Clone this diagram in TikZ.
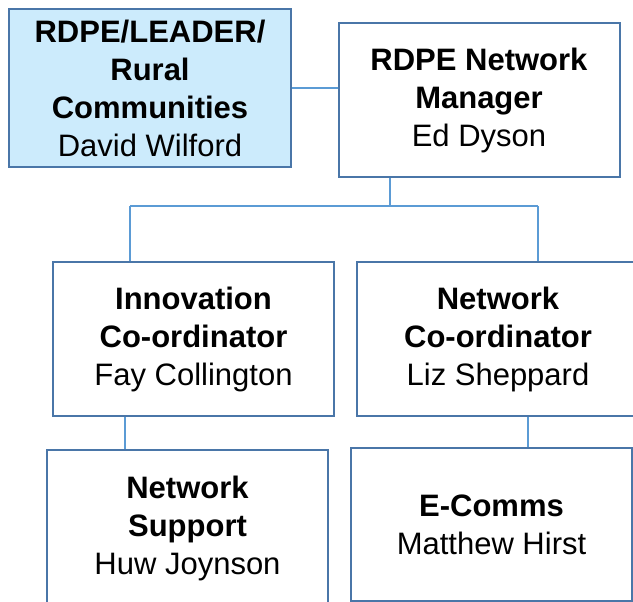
\documentclass[tikz,border=0pt]{standalone}
\usepackage{fontspec}
\setmainfont{Liberation Sans}

\definecolor{boxline}{HTML}{4A76A8}
\definecolor{linkline}{HTML}{5B9BD5}
\definecolor{leadfill}{HTML}{CCEBFC}

\tikzset{
	post/.style = {draw = boxline, line width = 2pt, fill = white, align = center,
		inner sep = 0pt, font = \fontsize{31}{38}\selectfont},
	link/.style = {draw = linkline, line width = 2pt}
}

\begin{document}
\begin{tikzpicture}[x = 1pt, y = -1pt]
		\path [use as bounding box, clip] (0,0) rectangle (633, 602);
		
		\node [post, fill = leadfill, minimum width = 282pt, minimum height = 158pt] (lead) at (150, 88)
			{\textbf{RDPE/LEADER/}\\\textbf{Rural}\\\textbf{Communities}\\David Wilford};
		\node [post, minimum width = 281pt, minimum height = 154pt] (manager) at (479, 100)
			{\textbf{RDPE Network}\\\textbf{Manager}\\Ed Dyson};
		\node [post, minimum width = 281pt, minimum height = 154pt] (innov) at (193.5, 339)
			{\textbf{Innovation}\\\textbf{Co-ordinator}\\Fay Collington};
		\node [post, minimum width = 282pt, minimum height = 154pt] (netco) at (498, 339)
			{\textbf{Network}\\\textbf{Co-ordinator}\\Liz Sheppard};
		\node [post, minimum width = 281pt, minimum height = 156pt] (support) at (187.5, 528)
			{\textbf{Network}\\\textbf{Support}\\Huw Joynson};
		\node [post, minimum width = 281pt, minimum height = 153pt] (ecomms) at (491.5, 524.5)
			{\textbf{E-Comms}\\Matthew Hirst};
		
		\coordinate (busL) at (130, 206);
		\coordinate (busM) at (390, 206);
		\coordinate (busR) at (538, 206);
		
		\draw [link] (lead.east) -- (lead.east -| manager.west);
		\draw [link] (busM |- manager.south) -- (busM);
		\draw [link] (busL) -- (busR);
		\draw [link] (busL) -- (busL |- innov.north);
		\draw [link] (busR) -- (busR |- netco.north);
		\draw [link] (innov.south -| 125, 0) -- (support.north -| 125, 0);
		\draw [link] (netco.south -| 528, 0) -- (ecomms.north -| 528, 0);
		
		\end{tikzpicture}
\end{document}
